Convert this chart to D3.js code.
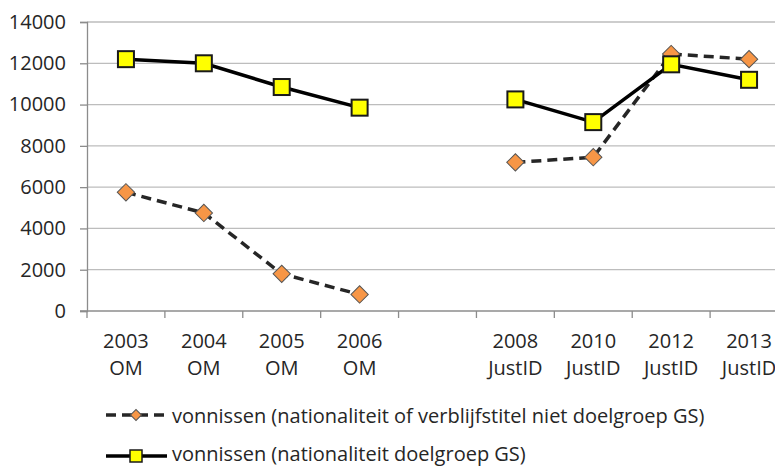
<!DOCTYPE html>
<html>
<head>
<meta charset="utf-8">
<script src="https://cdn.jsdelivr.net/npm/d3@7"></script>
<style>
body { margin: 0; background: #fff; }
text { font-family: "Open Sans", sans-serif; fill: #262626; }
</style>
</head>
<body>
<script>
let width = 775, height = 468;

// categories (empty one is the gap between OM and JustID)
let years   = ["2003", "2004", "2005", "2006", "", "2008", "2010", "2012", "2013"];
let sources = ["OM", "OM", "OM", "OM", "", "JustID", "JustID", "JustID", "JustID"];
let nietDoelgroep = [5750, 4750, 1800, 800, null, 7200, 7450, 12450, 12200];
let doelgroep     = [12200, 12000, 10850, 9850, null, 10250, 9150, 11950, 11200];
let yTicks = [0, 2000, 4000, 6000, 8000, 10000, 12000, 14000];
let seriesNames = [
    "vonnissen (nationaliteit of verblijfstitel niet doelgroep GS)",
    "vonnissen (nationaliteit doelgroep GS)"
];

let plotLeft = 87, plotRight = 788, plotTop = 22, plotBottom = 311;
let fontSize = "20px";

let x = d3.scaleBand().domain(d3.range(years.length)).range([plotLeft, plotRight]);
let y = d3.scaleLinear().domain([0, 14000]).range([plotBottom, plotTop]);

let svg = d3.select("body").append("svg")
    .attr("width", width)
    .attr("height", height);

// gridlines
svg.append("g").selectAll("line")
    .data(yTicks.filter(d => d > 0))
    .enter().append("line")
    .attr("x1", plotLeft).attr("x2", plotRight)
    .attr("y1", d => y(d)).attr("y2", d => y(d))
    .style("stroke", "#bdbdbd").style("stroke-width", 1.3);

// y axis
let yAxis = svg.append("g")
    .attr("transform", "translate(" + plotLeft + ",0)")
    .call(d3.axisLeft(y).tickValues(yTicks).tickFormat(d3.format("d")).tickSize(7).tickPadding(14));
yAxis.selectAll("text").style("font-size", fontSize).style("font-family", "'Open Sans'").style("fill", "#262626");
yAxis.selectAll(".domain, .tick line").style("stroke", "#8c8c8c").style("stroke-width", 1.3);

// x axis with ticks at category boundaries
let xg = svg.append("g").attr("transform", "translate(0," + plotBottom + ")");
xg.append("line").attr("x1", plotLeft - 7).attr("x2", plotRight).attr("y1", 0).attr("y2", 0)
    .style("stroke", "#8c8c8c").style("stroke-width", 1.3);
xg.selectAll(".tk").data(d3.range(years.length + 1))
    .enter().append("line").attr("class", "tk")
    .attr("x1", i => plotLeft + i * x.step()).attr("x2", i => plotLeft + i * x.step())
    .attr("y1", 0).attr("y2", 7)
    .style("stroke", "#8c8c8c").style("stroke-width", 1.3);
let lab = xg.selectAll(".lab").data(d3.range(years.length))
    .enter().append("text").attr("class", "lab")
    .attr("text-anchor", "middle")
    .style("font-size", fontSize);
lab.append("tspan").attr("x", i => x(i) + x.bandwidth() / 2).attr("y", 37).text(i => years[i]);
lab.append("tspan").attr("x", i => x(i) + x.bandwidth() / 2).attr("y", 64).text(i => sources[i]);

let cx = i => x(i) + x.bandwidth() / 2;
let line = d3.line()
    .defined(d => d != null)
    .x((d, i) => cx(i))
    .y(d => y(d));

// dashed series
svg.append("path")
    .attr("d", line(nietDoelgroep))
    .style("fill", "none").style("stroke", "#262626")
    .style("stroke-width", 3.5).style("stroke-dasharray", "10,6");
// solid series
svg.append("path")
    .attr("d", line(doelgroep))
    .style("fill", "none").style("stroke", "#000")
    .style("stroke-width", 3.5);

let diamond = d3.symbol().type(d3.symbolSquare).size(150);
let pts = nietDoelgroep.map((v, i) => [v, i]).filter(d => d[0] != null);
svg.selectAll(".dia").data(pts).enter().append("path")
    .attr("d", diamond)
    .attr("transform", d => "translate(" + cx(d[1]) + "," + y(d[0]) + ") rotate(45)")
    .style("fill", "#f79646").style("stroke", "#555").style("stroke-width", 1);

let spts = doelgroep.map((v, i) => [v, i]).filter(d => d[0] != null);
svg.selectAll(".sq").data(spts).enter().append("rect")
    .attr("x", d => cx(d[1]) - 8).attr("y", d => y(d[0]) - 8)
    .attr("width", 16).attr("height", 16)
    .style("fill", "#ffff00").style("stroke", "#1a1a1a").style("stroke-width", 2);

// legend
let leg = svg.append("g");
leg.append("line").attr("x1", 106).attr("x2", 168).attr("y1", 415).attr("y2", 415)
    .style("stroke", "#262626").style("stroke-width", 3.5).style("stroke-dasharray", "10,6");
leg.append("path").attr("d", d3.symbol().type(d3.symbolSquare).size(60))
    .attr("transform", "translate(136,415) rotate(45)")
    .style("fill", "#f79646").style("stroke", "#555");
leg.append("text").attr("x", 172).attr("y", 423).style("font-size", fontSize).text(seriesNames[0]);

leg.append("line").attr("x1", 106).attr("x2", 167).attr("y1", 456).attr("y2", 456)
    .style("stroke", "#000").style("stroke-width", 3.5);
leg.append("rect").attr("x", 130).attr("y", 450).attr("width", 12).attr("height", 12)
    .style("fill", "#ffff00").style("stroke", "#1a1a1a").style("stroke-width", 1.5);
leg.append("text").attr("x", 172).attr("y", 461).style("font-size", fontSize).text(seriesNames[1]);
</script>
</body>
</html>
